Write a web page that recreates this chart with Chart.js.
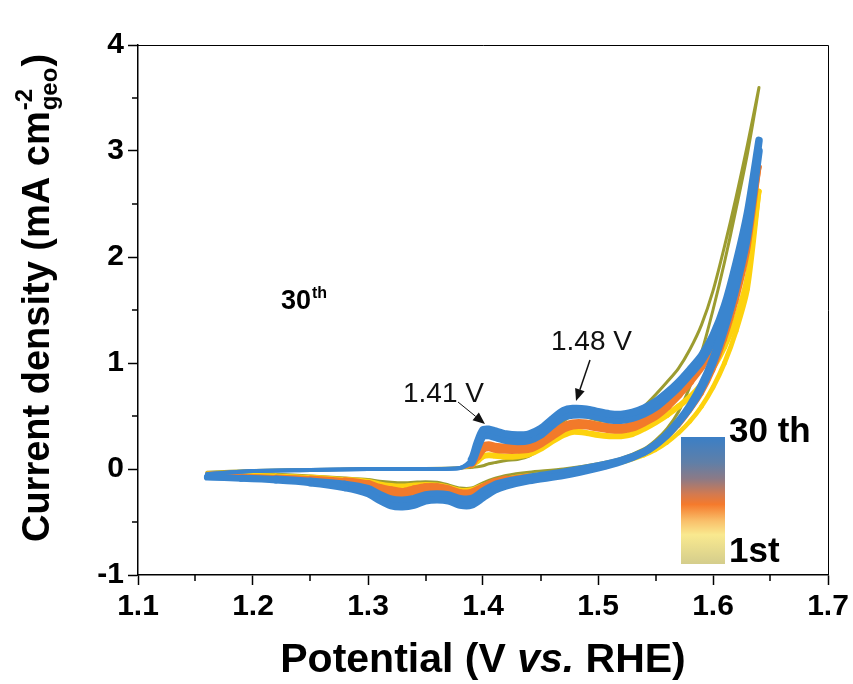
<!DOCTYPE html>
<html><head><meta charset="utf-8">
<script src="https://cdn.jsdelivr.net/npm/chart.js@4/dist/chart.umd.min.js"></script>
<style>html,body{margin:0;padding:0;background:#fff;overflow:hidden}</style>
</head><body>
<canvas id="c" width="853" height="684"></canvas>
<script>
// ---- data ----
const anodicPotential = [1.16, 1.20, 1.25, 1.30, 1.35, 1.38, 1.39, 1.395, 1.40, 1.405, 1.41, 1.42, 1.43, 1.44, 1.45, 1.46, 1.47, 1.478, 1.49, 1.50, 1.51, 1.52, 1.53, 1.54, 1.55, 1.56, 1.57, 1.58, 1.59, 1.60, 1.61, 1.62, 1.63, 1.64];
const cathodicPotential = [1.64, 1.63, 1.62, 1.61, 1.60, 1.59, 1.58, 1.57, 1.56, 1.55, 1.54, 1.52, 1.50, 1.47, 1.44, 1.42, 1.41, 1.40, 1.39, 1.38, 1.37, 1.36, 1.35, 1.34, 1.33, 1.32, 1.31, 1.30, 1.28, 1.25, 1.22, 1.19, 1.16];

// 1st cycle (olive)
const cycle1Anodic   = [-0.03, -0.015, -0.005, 0.0, 0.005, 0.01, 0.015, 0.02, 0.03, 0.05, 0.06, 0.08, 0.09, 0.12, 0.20, 0.33, 0.45, 0.50, 0.49, 0.46, 0.45, 0.46, 0.51, 0.59, 0.70, 0.82, 0.95, 1.13, 1.36, 1.68, 2.10, 2.56, 3.06, 3.60];
const cycle1Cathodic = [3.60, 2.98, 2.45, 1.95, 1.50, 1.10, 0.78, 0.54, 0.38, 0.27, 0.19, 0.10, 0.05, 0.0, -0.03, -0.06, -0.09, -0.13, -0.18, -0.18, -0.15, -0.125, -0.12, -0.125, -0.13, -0.125, -0.115, -0.10, -0.085, -0.065, -0.05, -0.04, -0.035];
// early cycles (yellow)
const earlyAnodic    = [-0.035, -0.02, -0.01, 0.0, 0.0, 0.01, 0.03, 0.07, 0.12, 0.13, 0.125, 0.115, 0.12, 0.14, 0.19, 0.26, 0.32, 0.35, 0.34, 0.32, 0.31, 0.31, 0.33, 0.38, 0.44, 0.51, 0.59, 0.68, 0.80, 0.95, 1.15, 1.42, 1.82, 2.62];
const earlyCathodic  = [2.62, 1.70, 1.30, 1.00, 0.77, 0.59, 0.45, 0.34, 0.25, 0.18, 0.13, 0.06, 0.02, -0.03, -0.06, -0.09, -0.12, -0.16, -0.20, -0.205, -0.175, -0.155, -0.15, -0.155, -0.165, -0.16, -0.145, -0.12, -0.10, -0.075, -0.06, -0.05, -0.045];
// middle cycles (orange)
const midAnodic      = [-0.04, -0.02, -0.01, 0.0, 0.0, 0.01, 0.04, 0.12, 0.20, 0.215, 0.20, 0.19, 0.19, 0.20, 0.25, 0.32, 0.39, 0.42, 0.42, 0.40, 0.385, 0.38, 0.40, 0.45, 0.51, 0.60, 0.71, 0.83, 0.97, 1.15, 1.40, 1.75, 2.20, 2.85];
const midCathodic    = [2.85, 2.05, 1.58, 1.22, 0.93, 0.71, 0.55, 0.41, 0.30, 0.22, 0.16, 0.08, 0.03, -0.03, -0.07, -0.10, -0.13, -0.18, -0.23, -0.235, -0.20, -0.18, -0.18, -0.20, -0.225, -0.21, -0.185, -0.145, -0.115, -0.09, -0.075, -0.065, -0.06];
// late cycles (blue): outer edge of the band (30th) and inner edge (~20th)
const lateAnodicOuter   = [-0.05, -0.02, -0.01, 0.0, 0.0, 0.01, 0.09, 0.25, 0.37, 0.375, 0.36, 0.33, 0.32, 0.33, 0.38, 0.47, 0.55, 0.57, 0.565, 0.54, 0.52, 0.515, 0.535, 0.575, 0.635, 0.72, 0.82, 0.94, 1.07, 1.26, 1.54, 1.94, 2.42, 3.10];
const lateAnodicInner   = [-0.05, -0.02, -0.01, 0.0, 0.0, 0.01, 0.06, 0.19, 0.31, 0.315, 0.30, 0.27, 0.26, 0.27, 0.32, 0.41, 0.49, 0.51, 0.51, 0.49, 0.465, 0.46, 0.48, 0.52, 0.58, 0.67, 0.77, 0.89, 1.02, 1.21, 1.48, 1.86, 2.34, 3.00];
const lateCathodicOuter = [3.10, 2.27, 1.77, 1.37, 1.04, 0.79, 0.60, 0.45, 0.33, 0.23, 0.16, 0.07, 0.01, -0.06, -0.11, -0.16, -0.20, -0.27, -0.34, -0.34, -0.30, -0.29, -0.30, -0.34, -0.355, -0.345, -0.295, -0.23, -0.175, -0.13, -0.105, -0.09, -0.08];
const lateCathodicInner = [3.00, 2.20, 1.71, 1.32, 1.00, 0.76, 0.58, 0.44, 0.32, 0.23, 0.16, 0.08, 0.03, -0.03, -0.08, -0.12, -0.15, -0.21, -0.28, -0.28, -0.245, -0.235, -0.245, -0.28, -0.295, -0.285, -0.24, -0.185, -0.145, -0.115, -0.095, -0.085, -0.075];

const xTickValues = [1.1, 1.2, 1.3, 1.4, 1.5, 1.6, 1.7];
const yTickValues = [-1, 0, 1, 2, 3, 4];
const xMinorTicks = [1.15, 1.25, 1.35, 1.45, 1.55, 1.65];
const yMinorTicks = [-0.5, 0.5, 1.5, 2.5, 3.5];

function loop(anodic, cathodic) {
  return anodicPotential.map((v, i) => ({x: v, y: anodic[i]}))
    .concat(cathodicPotential.map((v, i) => ({x: v, y: cathodic[i]})));
}

// ---- line-thickness styling (band widths in px along the sweep) ----
function interp(knots, x) {
  const k = knots.slice().sort((p, q) => p[0] - q[0]);
  if (x <= k[0][0]) return k[0][1];
  for (let i = 1; i < k.length; i++) {
    if (x <= k[i][0]) { const t = (x - k[i - 1][0]) / (k[i][0] - k[i - 1][0]); return k[i - 1][1] + t * (k[i][1] - k[i - 1][1]); }
  }
  return k[k.length - 1][1];
}
function widthFn(fwdKnots, backKnots) {
  return ctx => {
    const forward = ctx.p0DataIndex < anodicPotential.length - 1;
    const x = (ctx.p0.parsed.x + ctx.p1.parsed.x) / 2;
    return interp(forward ? fwdKnots : backKnots, x);
  };
}
const blueFwd = [[1.16, 4], [1.385, 4], [1.392, 7.5], [1.64, 7.5]];
const blueBack = [[1.64, 7.5], [1.28, 7.5], [1.16, 6]];
const orangeFwd = [[1.16, 3], [1.385, 3], [1.395, 8], [1.40, 10], [1.56, 10], [1.64, 5]];
const orangeBack = [[1.64, 5], [1.56, 4], [1.45, 4], [1.41, 9], [1.32, 10], [1.28, 7], [1.22, 4], [1.16, 4]];
const yellowFwd = [[1.16, 3], [1.385, 3], [1.40, 6], [1.56, 6], [1.64, 5]];
const yellowBack = [[1.64, 5], [1.50, 4], [1.42, 4], [1.40, 6], [1.30, 6], [1.22, 3.5], [1.16, 3.5]];

const FONT = "'Liberation Sans', Arial, Helvetica, sans-serif";

const decor = {
  id: 'decor',
  beforeDraw(chart) {
    const ctx = chart.ctx;
    ctx.save(); ctx.fillStyle = '#fff'; ctx.fillRect(0, 0, chart.width, chart.height); ctx.restore();
  },
  afterDraw(chart) {
    const ctx = chart.ctx, a = chart.chartArea;
    const xs = chart.scales.x, ys = chart.scales.y;
    ctx.save();
    ctx.strokeStyle = '#000'; ctx.lineWidth = 1;
    ctx.beginPath(); ctx.moveTo(a.left, a.top + 0.5); ctx.lineTo(a.right + 0.5, a.top + 0.5); ctx.lineTo(a.right + 0.5, a.bottom); ctx.stroke();
    ctx.lineWidth = 1.5;
    ctx.beginPath();
    xMinorTicks.forEach(v => { const p = Math.round(xs.getPixelForValue(v)); ctx.moveTo(p, a.bottom); ctx.lineTo(p, a.bottom + 6); });
    yMinorTicks.forEach(v => { const p = Math.round(ys.getPixelForValue(v)); ctx.moveTo(a.left, p); ctx.lineTo(a.left - 6, p); });
    ctx.stroke();

    ctx.fillStyle = '#111';
    ctx.font = '28px ' + FONT; ctx.textBaseline = 'alphabetic'; ctx.textAlign = 'left';
    ctx.fillText('1.41 V', 403, 402);
    ctx.fillText('1.48 V', 551, 350);
    function arrow(x1, y1, x2, y2, w) {
      const ang = Math.atan2(y2 - y1, x2 - x1), L = 12, W = 5;
      ctx.strokeStyle = '#111'; ctx.lineWidth = w;
      ctx.beginPath(); ctx.moveTo(x1, y1);
      ctx.lineTo(x2 - L * Math.cos(ang), y2 - L * Math.sin(ang)); ctx.stroke();
      ctx.beginPath();
      ctx.moveTo(x2, y2);
      ctx.lineTo(x2 - L * Math.cos(ang) + W * Math.sin(ang), y2 - L * Math.sin(ang) - W * Math.cos(ang));
      ctx.lineTo(x2 - L * Math.cos(ang) - W * Math.sin(ang), y2 - L * Math.sin(ang) + W * Math.cos(ang));
      ctx.closePath(); ctx.fillStyle = '#111'; ctx.fill();
    }
    arrow(458, 402, 485, 424, 1);
    arrow(590, 360, 576, 401, 1.5);

    ctx.fillStyle = '#000';
    ctx.font = 'bold 27px ' + FONT; ctx.fillText('30', 281, 309);
    const w30 = ctx.measureText('30').width;
    ctx.font = 'bold 16px ' + FONT; ctx.fillText('th', 281 + w30 + 1, 298);

    const g = ctx.createLinearGradient(0, 437, 0, 564);
    g.addColorStop(0, '#3b7fc6');
    g.addColorStop(0.2, '#5f7fa8');
    g.addColorStop(0.33, '#8c7a86');
    g.addColorStop(0.45, '#d37a50');
    g.addColorStop(0.53, '#f57a2c');
    g.addColorStop(0.66, '#f9bf6a');
    g.addColorStop(0.77, '#f9e98f');
    g.addColorStop(1, '#d4cd8c');
    ctx.fillStyle = g; ctx.fillRect(681, 437, 44, 127);
    ctx.fillStyle = '#000'; ctx.font = 'bold 35px ' + FONT;
    ctx.fillText('30 th', 729, 442);
    ctx.fillText('1st', 729, 562);

    ctx.font = 'bold 41px ' + FONT;
    const p1 = 'Potential (V ', p3 = ' RHE)';
    const w1 = ctx.measureText(p1).width, w3 = ctx.measureText(p3).width;
    ctx.font = 'italic bold 41px ' + FONT; const w2 = ctx.measureText('vs.').width;
    let x0 = 483 - (w1 + w2 + w3) / 2;
    ctx.font = 'bold 41px ' + FONT; ctx.fillText(p1, x0, 672);
    ctx.font = 'italic bold 41px ' + FONT; ctx.fillText('vs.', x0 + w1, 672);
    ctx.font = 'bold 41px ' + FONT; ctx.fillText(p3, x0 + w1 + w2, 672);

    ctx.save();
    ctx.translate(49, 298); ctx.rotate(-Math.PI / 2);
    const big = 'bold 38px ' + FONT, small = 'bold 24px ' + FONT;
    const t1 = 'Current density (mA cm';
    ctx.font = big; const a1 = ctx.measureText(t1).width;
    ctx.font = small; const a2 = ctx.measureText('-2').width, a3 = ctx.measureText('geo').width;
    ctx.font = big; const a4 = ctx.measureText(')').width;
    const tw = a1 + Math.max(a2, a3) + a4 + 2;
    let s = -tw / 2;
    ctx.font = big; ctx.fillText(t1, s, 0);
    ctx.font = small; ctx.fillText('-2', s + a1 + 1, -17);
    ctx.fillText('geo', s + a1 + 1, 8);
    ctx.font = big; ctx.fillText(')', s + a1 + Math.max(a2, a3) + 2, 0);
    ctx.restore();
    ctx.restore();
  }
};

const common = {showLine: true, pointRadius: 0, fill: false, tension: 0.25, borderJoinStyle: 'round', borderCapStyle: 'round'};
const BLUE = '#3a85cf';
new Chart(document.getElementById('c'), {
  type: 'scatter',
  data: {
    datasets: [
      Object.assign({label: '30th', data: loop(lateAnodicOuter, lateCathodicOuter), borderColor: BLUE, borderWidth: 7.5, order: 0, segment: {borderWidth: widthFn(blueFwd, blueBack)}}, common),
      Object.assign({label: '20th', data: loop(lateAnodicInner, lateCathodicInner), borderColor: BLUE, borderWidth: 7.5, order: 1, segment: {borderWidth: widthFn(blueFwd, blueBack)}}, common),
      Object.assign({label: 'middle', data: loop(midAnodic, midCathodic), borderColor: '#f27a2a', borderWidth: 8, order: 2, segment: {borderWidth: widthFn(orangeFwd, orangeBack)}}, common),
      Object.assign({label: 'early', data: loop(earlyAnodic, earlyCathodic), borderColor: '#fdd20e', borderWidth: 5, order: 3, segment: {borderWidth: widthFn(yellowFwd, yellowBack)}}, common),
      Object.assign({label: '1st', data: loop(cycle1Anodic, cycle1Cathodic), borderColor: '#9c9c30', borderWidth: 3, order: 4}, common)
    ]
  },
  options: {
    responsive: false, animation: false,
    layout: {padding: {top: 45, right: 25, left: 0, bottom: 0}},
    plugins: {legend: {display: false}, tooltip: {enabled: false}},
    scales: {
      x: {
        type: 'linear', min: 1.1, max: 1.7,
        afterBuildTicks: s => { s.ticks = xTickValues.map(v => ({value: v})); },
        afterFit: s => { s.height = 109; },
        grid: {display: true, drawOnChartArea: false, drawTicks: true, tickLength: 10, tickWidth: 1.5, tickColor: '#000'},
        border: {display: true, color: '#000', width: 1.5},
        ticks: {color: '#000', font: {family: FONT, size: 30, weight: 'bold'}, padding: 4, maxRotation: 0, autoSkip: false,
          callback: v => Number(v).toFixed(1)}
      },
      y: {
        type: 'linear', min: -1, max: 4,
        afterBuildTicks: s => { s.ticks = yTickValues.map(v => ({value: v})); },
        afterFit: s => { s.width = 138; },
        grid: {display: true, drawOnChartArea: false, drawTicks: true, tickLength: 10, tickWidth: 1.5, tickColor: '#000'},
        border: {display: true, color: '#000', width: 1.5},
        ticks: {color: '#000', font: {family: FONT, size: 30, weight: 'bold'}, padding: 4, autoSkip: false,
          callback: v => String(v)}
      }
    }
  },
  plugins: [decor]
});
</script>
</body></html>
